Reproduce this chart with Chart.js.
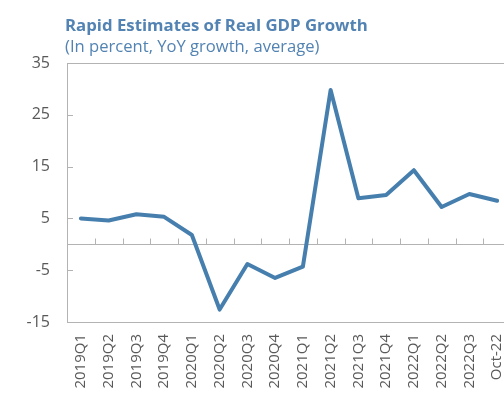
<!DOCTYPE html>
<html>
<head>
<meta charset="utf-8">
<script src="https://cdn.jsdelivr.net/npm/chart.js@4.4.1/dist/chart.umd.min.js"></script>
<style>
  html, body { margin: 0; padding: 0; background: #ffffff; overflow: hidden; }
  #wrap { position: relative; width: 511px; height: 399px; }
  #chart { position: absolute; left: 0; top: 0; }
  .head { position: absolute; left: 65px; white-space: nowrap; font-family: "Open Sans", sans-serif; color: #5283b3; }
  #title { top: 15px; font-size: 16.8px; line-height: 20px; font-weight: bold; }
  #subtitle { top: 36px; font-size: 16.6px; line-height: 19px; }
</style>
</head>
<body>
<div id="wrap">
  <canvas id="chart" width="511" height="399"></canvas>
  <div class="head" id="title">Rapid Estimates of Real GDP Growth</div>
  <div class="head" id="subtitle">(In percent, YoY growth, average)</div>
</div>
<script>
// Quarterly periods plus the latest month
const categories = ['2019Q1', '2019Q2', '2019Q3', '2019Q4', '2020Q1', '2020Q2', '2020Q3', '2020Q4',
                    '2021Q1', '2021Q2', '2021Q3', '2021Q4', '2022Q1', '2022Q2', '2022Q3', 'Oct-22'];
// Real GDP growth, percent YoY
const growth = [5.0, 4.6, 5.8, 5.3, 1.8, -12.6, -3.8, -6.5, -4.3, 29.8, 8.9, 9.5, 14.3, 7.2, 9.7, 8.4];
// Value axis range and labelled steps
const yMin = -15;
const yMax = 35;
const yStep = 10;

const axisGray = '#b3b3b3';
const textGray = '#595959';
const lineBlue = '#467fae';

// Zero line, short inward ticks on the value axis and category dividers on the zero line
const axisMarks = {
  id: 'axisMarks',
  beforeDatasetsDraw(chart) {
    const { ctx, chartArea, scales } = chart;
    const x = scales.x, y = scales.y;
    const y0 = Math.round(y.getPixelForValue(0)) + 0.5;
    ctx.save();
    ctx.strokeStyle = axisGray;
    ctx.lineWidth = 1;
    ctx.beginPath();
    ctx.moveTo(chartArea.left, y0);
    ctx.lineTo(chartArea.right, y0);
    for (let i = 1; i < categories.length; i++) {
      const bx = Math.round((x.getPixelForValue(i - 1) + x.getPixelForValue(i)) / 2) + 0.5;
      ctx.moveTo(bx, y0);
      ctx.lineTo(bx, y0 - 6);
    }
    y.ticks.forEach(t => {
      if (t.value === yMin || t.value === yMax) return;
      const ty = Math.round(y.getPixelForValue(t.value)) + 0.5;
      ctx.moveTo(chartArea.left, ty);
      ctx.lineTo(chartArea.left + 6, ty);
    });
    ctx.stroke();
    ctx.restore();
  }
};

new Chart(document.getElementById('chart'), {
  type: 'line',
  data: {
    labels: categories,
    datasets: [{
      data: growth,
      borderColor: lineBlue,
      borderWidth: 4,
      borderJoinStyle: 'round',
      borderCapStyle: 'round',
      pointRadius: 0,
      tension: 0,
      fill: false
    }]
  },
  options: {
    responsive: false,
    animation: false,
    layout: { padding: { top: 63, left: 0, right: 0, bottom: 0 } },
    plugins: { legend: { display: false }, tooltip: { enabled: false } },
    scales: {
      x: {
        type: 'category',
        offset: true,
        grid: { display: false, drawTicks: false },
        border: { display: true, color: axisGray, width: 1 },
        ticks: {
          autoSkip: false,
          maxRotation: 90,
          minRotation: 90,
          padding: 12,
          color: textGray,
          font: { family: '"Open Sans", sans-serif', size: 15 }
        },
        afterFit(scale) {
          scale.height = 77;
          // let the plot run right up to the canvas edge
          scale.paddingLeft = 0;
          scale.paddingRight = 0;
        }
      },
      y: {
        min: yMin,
        max: yMax,
        grid: {
          drawTicks: false,
          color: ctx => (ctx.tick && ctx.tick.value === yMax) ? axisGray : 'rgba(0,0,0,0)'
        },
        border: { display: true, color: axisGray, width: 1 },
        ticks: {
          stepSize: yStep,
          padding: 17,
          color: textGray,
          font: { family: '"Open Sans", sans-serif', size: 16 }
        },
        afterFit(scale) { scale.width = 67; }
      }
    }
  },
  plugins: [axisMarks]
});
</script>
</body>
</html>
